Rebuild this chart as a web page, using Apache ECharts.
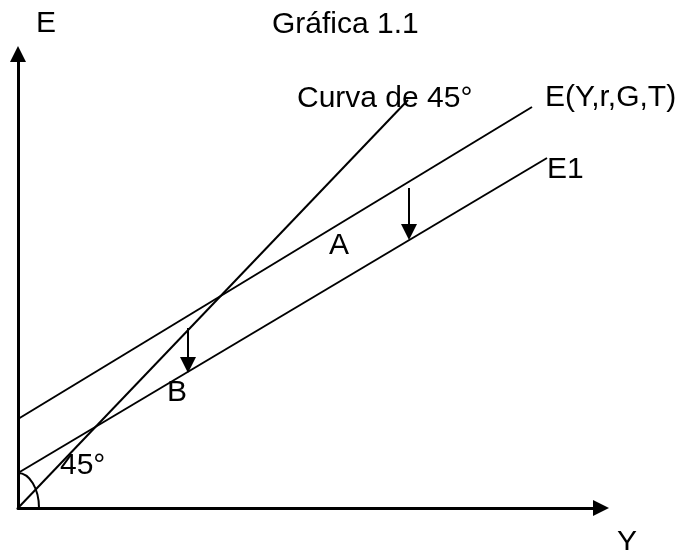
<!DOCTYPE html>
<html>
<head>
<meta charset="utf-8">
<title>Gráfica 1.1</title>
<script src="https://cdn.jsdelivr.net/npm/echarts@6/dist/echarts.min.js"></script>
<style>
  html, body { margin: 0; padding: 0; background: #fff; }
  #chart { width: 689px; height: 550px; }
</style>
</head>
<body>
<div id="chart"></div>
<script>
// axis ranges (Y horizontally, E vertically)
const yMax = 583
const eMax = 454

// straight lines, two end points each: [Y, E]
const curva45 = [[0, 0], [390, 408]]
const lineE = [[0, 89], [514, 401]]
const lineE1 = [[0, 35], [529, 350]]

// downward shift arrows: [from, to]
const shiftArrows = [
  [[391, 320], [391, 276]],
  [[170, 180], [170, 143]]
]

// the 45° angle mark: start on the E axis, end on the Y axis
const arcEnds = [[0, 35], [21, 0]]

// text marks: [Y, E, text, align]
const textMarks = [
  [279, 409, 'Curva de 45°', 'left'],
  [527, 410, 'E(Y,r,G,T)', 'left'],
  [529, 338, 'E1', 'left'],
  [321, 262, 'A', 'center'],
  [159, 115, 'B', 'center'],
  [42, 42, '45°', 'left']
]

const font = 'Liberation Sans, Arial, sans-serif'
const fontSize = 30

const chart = echarts.init(document.getElementById('chart'))

function straight(data) {
  return {
    type: 'line',
    data: data,
    showSymbol: false,
    silent: true,
    lineStyle: { color: '#000', width: 2 }
  }
}

chart.setOption({
  animation: false,
  title: {
    text: 'Gráfica 1.1',
    left: 272,
    top: 10,
    padding: 0,
    textStyle: { fontFamily: font, fontSize: fontSize, fontWeight: 'normal', color: '#000' }
  },
  grid: { left: 18, right: 88, top: 54, bottom: 42, outerBoundsMode: 'none', containLabel: false },
  xAxis: {
    type: 'value',
    min: 0,
    max: yMax,
    name: 'Y',
    nameLocation: 'end',
    nameGap: 26,
    nameTextStyle: {
      fontFamily: font, fontSize: fontSize, color: '#000',
      align: 'center', verticalAlign: 'top', padding: [20, 0, 0, 0]
    },
    axisLine: {
      onZero: false,
      symbol: ['none', 'triangle'],
      symbolSize: [16, 16],
      lineStyle: { color: '#000', width: 3 }
    },
    axisTick: { show: false },
    axisLabel: { show: false },
    splitLine: { show: false }
  },
  yAxis: {
    type: 'value',
    min: 0,
    max: eMax,
    name: 'E',
    nameLocation: 'end',
    nameGap: 30,
    nameTextStyle: {
      fontFamily: font, fontSize: fontSize, color: '#000',
      align: 'left', verticalAlign: 'middle', padding: [0, 0, 0, 18]
    },
    axisLine: {
      onZero: false,
      symbol: ['none', 'triangle'],
      symbolSize: [16, 16],
      lineStyle: { color: '#000', width: 3 }
    },
    axisTick: { show: false },
    axisLabel: { show: false },
    splitLine: { show: false }
  },
  series: [
    straight(curva45),
    straight(lineE),
    straight(lineE1),
    {
      type: 'lines',
      coordinateSystem: 'cartesian2d',
      silent: true,
      symbol: ['none', 'triangle'],
      symbolSize: 16,
      lineStyle: { color: '#000', width: 2, opacity: 1, curveness: 0 },
      data: shiftArrows.map(a => ({ coords: a }))
    },
    {
      type: 'custom',
      silent: true,
      data: [[0, 0]],
      renderItem(params, api) {
        const o = api.coord([0, 0])
        const p0 = api.coord(arcEnds[0])
        const p1 = api.coord(arcEnds[1])
        const k = 0.5523
        return {
          type: 'bezierCurve',
          shape: {
            x1: p0[0], y1: p0[1],
            cpx1: p0[0] + k * (p1[0] - o[0]), cpy1: p0[1],
            cpx2: p1[0], cpy2: o[1] - k * (o[1] - p0[1]),
            x2: p1[0], y2: p1[1]
          },
          style: { fill: 'none', stroke: '#000', lineWidth: 2 }
        }
      }
    },
    {
      type: 'scatter',
      silent: true,
      symbolSize: 0,
      itemStyle: { color: '#000', opacity: 1 },
      data: textMarks.map(t => ({
        value: [t[0], t[1]],
        label: {
          show: true,
          formatter: t[2],
          position: 'inside',
          align: t[3],
          verticalAlign: 'middle',
          fontFamily: font,
          fontSize: fontSize,
          color: '#000',
          textBorderWidth: 0
        }
      }))
    }
  ]
})
</script>
</body>
</html>
